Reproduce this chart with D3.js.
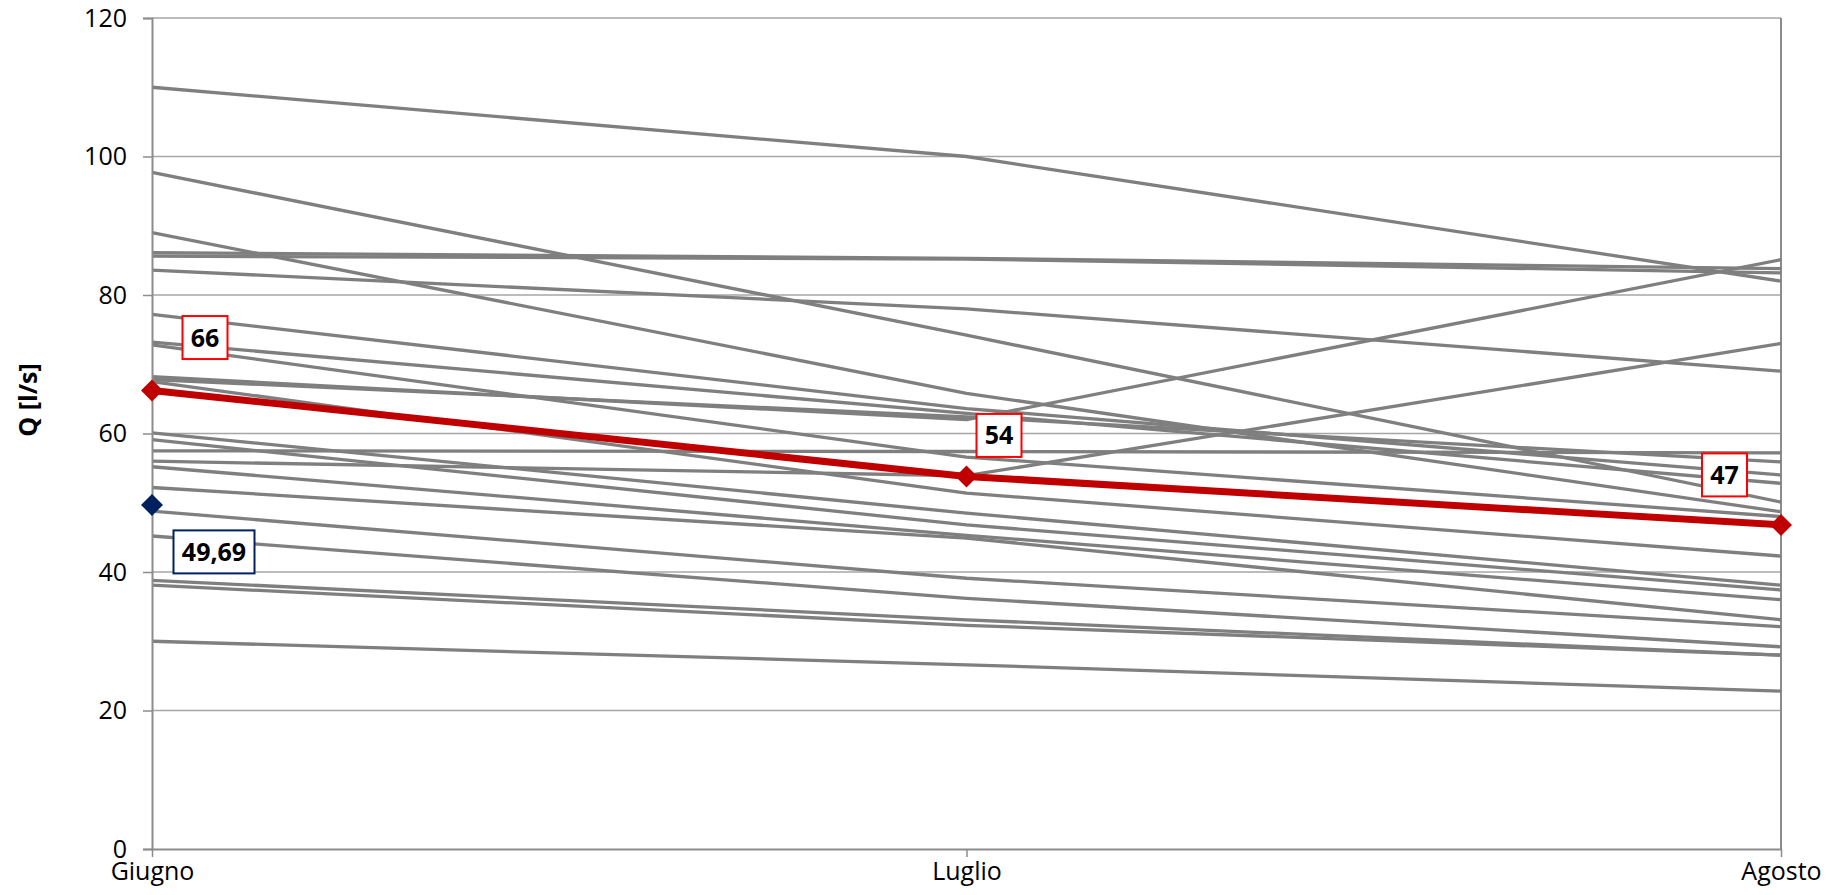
<!DOCTYPE html>
<html>
<head>
<meta charset="utf-8">
<script src="https://cdn.jsdelivr.net/npm/d3@7"></script>
<style>
  body { margin: 0; background: #fff; }
  text { font-family: "Open Sans", "Liberation Sans", sans-serif; }
</style>
</head>
<body>
<div id="chart"></div>
<script>
// size of svg and plot area
const width = 1828; const height = 895;
const margin = {top: 18, right: 47, bottom: 46, left: 152};
const innerWidth = width - margin.left - margin.right;
const innerHeight = height - margin.top - margin.bottom;

// categories
const months = ["Giugno", "Luglio", "Agosto"];
// one value per gray line, month by month (same index = same line)
const giugno = [110.0, 97.7, 89.0, 86.1, 85.6, 83.6, 77.2, 73.2, 72.8, 68.2, 67.8, 67.5,
    57.5, 56.0, 60.1, 59.1, 55.2, 52.2, 48.8, 45.2, 38.8, 38.1, 30.0];
const luglio = [100.0, 74.2, 65.8, 85.3, 85.2, 78.0, 63.6, 62.9, 56.6, 62.0, 62.4, 51.4,
    57.4, 53.9, 48.5, 46.8, 45.3, 44.9, 39.1, 36.2, 33.1, 32.3, 26.6];
const agosto = [82.0, 50.1, 48.7, 83.8, 83.2, 69.0, 54.0, 52.8, 48.0, 85.1, 55.9, 42.3,
    57.2, 73.0, 38.1, 37.4, 36.0, 33.1, 32.1, 29.2, 28.0, 28.0, 22.8];
// highlighted series (red) and its labels
const media = [66.2, 53.8, 46.8];
const mediaLabels = ["66", "54", "47"];
// single blue point on Giugno
const puntoGiugno = 49.69;
const puntoLabel = "49,69";
// y axis ticks
const yTicks = [0, 20, 40, 60, 80, 100, 120];

// label box offsets from their point (px)
const mediaLabelOffset = [[53, -53], [32.5, -41], [-56.5, -50]];
const puntoLabelOffset = [62, 47];

const svg = d3.select("#chart").append("svg")
    .attr("width", width)
    .attr("height", height);
const plotG = svg.append("g")
    .attr("transform", `translate(${margin.left}, ${margin.top})`);

const x = d3.scalePoint().domain(months).range([0, innerWidth]);
const y = d3.scaleLinear().domain([0, 120]).range([innerHeight, 0]);

// gridlines
plotG.append("g")
    .selectAll("line")
    .data(yTicks.filter(d => d > 0))
    .enter().append("line")
        .attr("x1", 0).attr("x2", innerWidth)
        .attr("y1", d => y(d)).attr("y2", d => y(d))
        .attr("stroke", "#a6a6a6")
        .attr("stroke-width", 1.5);

// right border
plotG.append("line")
    .attr("x1", innerWidth).attr("x2", innerWidth)
    .attr("y1", 0).attr("y2", innerHeight)
    .attr("stroke", "#8c8c8c").attr("stroke-width", 2);

// gray lines
const series = giugno.map((g, i) => [g, luglio[i], agosto[i]]);
const line = d3.line()
    .x((d, i) => x(months[i]))
    .y(d => y(d));

plotG.append("g")
    .selectAll("path")
    .data(series)
    .enter().append("path")
        .attr("d", line)
        .attr("fill", "none")
        .attr("stroke", "#7f7f7f")
        .attr("stroke-width", 3.3)
        .attr("stroke-linejoin", "round");

// axes
const yAxis = d3.axisLeft(y).tickValues(yTicks).tickSize(9).tickPadding(16);
const gy = plotG.append("g").call(yAxis);
gy.select(".domain").attr("stroke", "#8c8c8c").attr("stroke-width", 2);
gy.selectAll(".tick line").attr("stroke", "#8c8c8c").attr("stroke-width", 1.5);
gy.selectAll(".tick text")
    .attr("font-size", "25px")
    .attr("fill", "#000")
    .attr("font-family", "'Open Sans', sans-serif");

const xAxis = d3.axisBottom(x).tickSize(8).tickPadding(5).tickSizeOuter(0);
const gx = plotG.append("g")
    .attr("transform", `translate(0, ${innerHeight})`)
    .call(xAxis);
gx.select(".domain").attr("stroke", "#8c8c8c").attr("stroke-width", 2);
gx.selectAll(".tick line").attr("stroke", "#8c8c8c").attr("stroke-width", 1.5);
gx.selectAll(".tick text")
    .attr("font-size", "25px")
    .attr("fill", "#000")
    .attr("font-family", "'Open Sans', sans-serif");

// red series
plotG.append("path")
    .datum(media)
    .attr("d", line)
    .attr("fill", "none")
    .attr("stroke", "#c00000")
    .attr("stroke-width", 7)
    .attr("stroke-linejoin", "round");

const diamond = r => `M0,${-r}L${r},0L0,${r}L${-r},0Z`;

plotG.append("g")
    .selectAll("path")
    .data(media)
    .enter().append("path")
        .attr("d", diamond(11))
        .attr("transform", (d, i) => `translate(${x(months[i])}, ${y(d)})`)
        .attr("fill", "#c00000");

// blue point
plotG.append("path")
    .attr("d", diamond(11))
    .attr("transform", `translate(${x(months[0])}, ${y(puntoGiugno)})`)
    .attr("fill", "#002060");

// label boxes
function labelBox(cx, cy, text, w, border) {
    const g = plotG.append("g").attr("transform", `translate(${cx}, ${cy})`);
    g.append("rect")
        .attr("x", -w / 2).attr("y", -21.5)
        .attr("width", w).attr("height", 43)
        .attr("fill", "#fff")
        .attr("stroke", border)
        .attr("stroke-width", 2);
    g.append("text")
        .attr("text-anchor", "middle")
        .attr("dy", "0.36em")
        .attr("font-size", "25px")
        .attr("font-weight", "bold")
        .attr("fill", "#000")
        .text(text);
}

media.forEach((d, i) => {
    labelBox(x(months[i]) + mediaLabelOffset[i][0], y(d) + mediaLabelOffset[i][1],
        mediaLabels[i], 45, "#ff0000");
});
labelBox(x(months[0]) + puntoLabelOffset[0], y(puntoGiugno) + puntoLabelOffset[1],
    puntoLabel, 81, "#002060");

// y axis title
svg.append("text")
    .attr("transform", "translate(37, 400) rotate(-90)")
    .attr("text-anchor", "middle")
    .attr("font-size", "25px")
    .attr("font-weight", "bold")
    .attr("fill", "#000")
    .text("Q  [l/s]");
</script>
</body>
</html>
